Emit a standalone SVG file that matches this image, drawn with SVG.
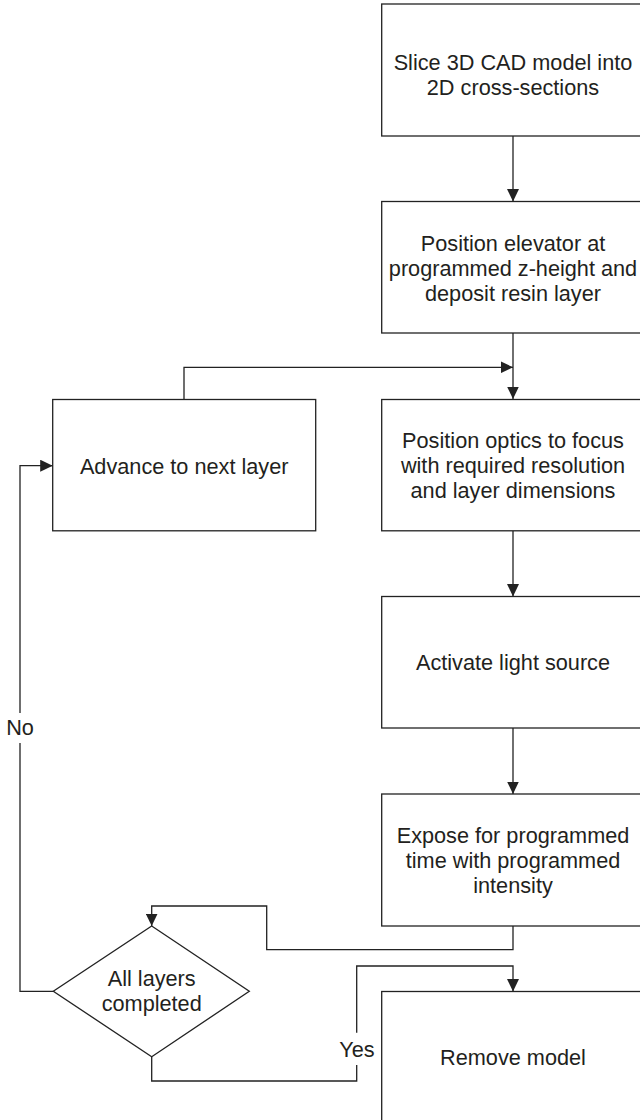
<svg xmlns="http://www.w3.org/2000/svg" width="640" height="1120" viewBox="0 0 640 1120">
  <defs>
    <style>
      .box { fill: #ffffff; stroke: #222222; stroke-width: 1.3; }
      .conn { fill: none; stroke: #222222; stroke-width: 1.3; }
      .t { font-family: "Liberation Sans", Arial, Helvetica, sans-serif; font-size: 21.7px; fill: #231f20; text-anchor: middle; }
    </style>
    <marker id="arrow" markerUnits="userSpaceOnUse" markerWidth="13" markerHeight="12" refX="12.5" refY="6" orient="auto">
      <path d="M0,0 L12.5,6 L0,12 Z" fill="#222222"/>
    </marker>
  </defs>
  <rect width="640" height="1120" fill="#ffffff"/>

  <g id="connectors">
    <path class="conn" d="M513,136 V201.5" marker-end="url(#arrow)"/>
    <path class="conn" d="M513,333 V399" marker-end="url(#arrow)"/>
    <path class="conn" d="M184,399 V367.3 H513" marker-end="url(#arrow)"/>
    <path class="conn" d="M513,531 V596.5" marker-end="url(#arrow)"/>
    <path class="conn" d="M513,728 V794" marker-end="url(#arrow)"/>
    <path class="conn" d="M513,926 V949.7 H266.7 V906 H151.7 V926" marker-end="url(#arrow)"/>
    <path class="conn" d="M151.7,1056.7 V1081 H356.7 V1065"/>
    <path class="conn" d="M356.7,1032.7 V966 H513 V991.5" marker-end="url(#arrow)"/>
    <path class="conn" d="M53.3,991.3 H20 V743"/>
    <path class="conn" d="M20,713 V465.7 H52.7" marker-end="url(#arrow)"/>
    <text class="t" x="20" y="735">No</text>
    <text class="t" x="357" y="1056.7">Yes</text>
  </g>

  <g id="slice">
    <rect class="box" x="381.7" y="4" width="263" height="132"/>
    <text class="t" x="513" y="69.5">Slice 3D CAD model into</text>
    <text class="t" x="513" y="94.5">2D cross-sections</text>
  </g>

  <g id="elevator">
    <rect class="box" x="381.7" y="201.5" width="263" height="131.5"/>
    <text class="t" x="513" y="250.5">Position elevator at</text>
    <text class="t" x="513" y="275.5">programmed z-height and</text>
    <text class="t" x="513" y="300.5">deposit resin layer</text>
  </g>

  <g id="advance">
    <rect class="box" x="52.7" y="399.5" width="263" height="131.3"/>
    <text class="t" x="184.2" y="473.5">Advance to next layer</text>
  </g>

  <g id="optics">
    <rect class="box" x="381.7" y="399.5" width="263" height="131.3"/>
    <text class="t" x="513" y="448">Position optics to focus</text>
    <text class="t" x="513" y="473">with required resolution</text>
    <text class="t" x="513" y="498">and layer dimensions</text>
  </g>

  <g id="activate">
    <rect class="box" x="381.7" y="596.5" width="263" height="131.5"/>
    <text class="t" x="513" y="670.3">Activate light source</text>
  </g>

  <g id="expose">
    <rect class="box" x="381.7" y="794" width="263" height="132"/>
    <text class="t" x="513" y="843">Expose for programmed</text>
    <text class="t" x="513" y="868">time with programmed</text>
    <text class="t" x="513" y="893">intensity</text>
  </g>

  <g id="decision">
    <polygon class="box" points="151.7,926 249.3,991.3 151.7,1056.7 53.3,991.3"/>
    <text class="t" x="151.7" y="985.7">All layers</text>
    <text class="t" x="151.7" y="1010.7">completed</text>
  </g>

  <g id="remove">
    <rect class="box" x="381.7" y="991.5" width="263" height="132"/>
    <text class="t" x="513" y="1064.8">Remove model</text>
  </g>
</svg>
